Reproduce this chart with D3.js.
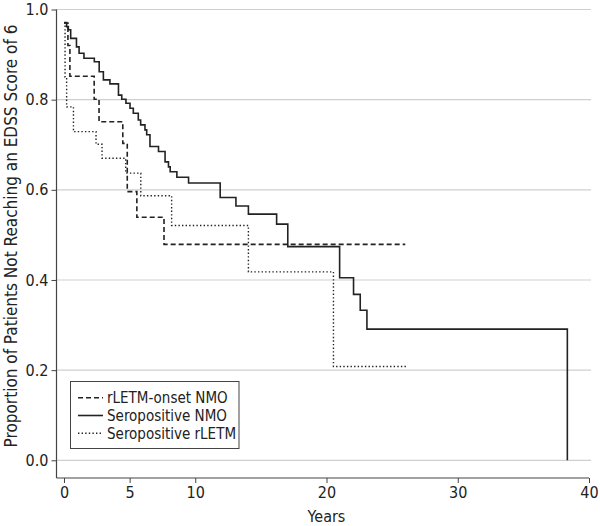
<!DOCTYPE html>
<html>
<head>
<meta charset="utf-8">
<script src="https://cdn.jsdelivr.net/npm/d3@7/dist/d3.min.js"></script>
<style>
  html, body { margin: 0; padding: 0; background: #fff; }
  svg { display: block; }
  text { font-family: "Liberation Sans Narrow", "DejaVu Sans Condensed", "Liberation Sans", sans-serif; fill: #222; }
</style>
</head>
<body>
<svg id="chart" width="600" height="526"></svg>
<script>
// ---- Data ----
const seriesNames = ["rLETM-onset NMO", "Seropositive NMO", "Seropositive rLETM"];

const rletmOnsetTimes  = [0, 0.3, 0.45, 2.3, 2.67, 4.48, 4.82, 5.55, 7.62, 26.0];
const rletmOnsetValues = [0.97, 0.92, 0.852, 0.801, 0.751, 0.703, 0.596, 0.539, 0.479, 0.479];

const seroNmoTimes  = [0, 0.2, 0.33, 0.51, 0.95, 1.15, 1.52, 2.31, 2.68, 3.0, 3.5, 4.15, 4.4, 4.72, 5.03, 5.28, 5.66, 5.84, 6.17, 6.3, 6.55, 7.2, 7.7, 7.96, 8.09, 8.6, 9.49, 11.9, 13.1, 14.05, 16.2, 17.05, 21.0, 22.06, 22.57, 23.08, 38.35];
const seroNmoValues = [0.971, 0.962, 0.955, 0.936, 0.917, 0.903, 0.892, 0.884, 0.862, 0.844, 0.835, 0.810, 0.801, 0.792, 0.781, 0.770, 0.755, 0.744, 0.733, 0.722, 0.696, 0.685, 0.662, 0.651, 0.640, 0.628, 0.615, 0.583, 0.564, 0.546, 0.524, 0.474, 0.405, 0.368, 0.333, 0.291, 0.0];

const seroRletmTimes  = [0, 0.08, 0.2, 0.72, 2.44, 2.9, 4.7, 5.85, 8.2, 14.05, 20.53, 26.1];
const seroRletmValues = [0.97, 0.85, 0.784, 0.729, 0.701, 0.670, 0.637, 0.587, 0.521, 0.418, 0.208, 0.208];

const xTicks = [0, 5, 10, 20, 30, 40];
const yTicks = [0, 0.2, 0.4, 0.6, 0.8, 1.0];
const xLabel = "Years";
const yLabel = "Proportion of Patients Not Reaching an EDSS Score of 6";

// ---- Layout ----
const svg = d3.select("#chart");
const x = d3.scaleLinear().domain([0, 40]).range([64, 589]);
const y = d3.scaleLinear().domain([0, 1]).range([460.3, 9.5]);
const axisLeftX = 56.5;
const axisBottomY = 478;

// gridlines
svg.append("g").selectAll("line").data(yTicks).join("line")
  .attr("x1", axisLeftX).attr("x2", 591)
  .attr("y1", d => y(d)).attr("y2", d => y(d))
  .attr("stroke", "#cfcfcf").attr("stroke-width", 1.2);

// y axis
const yAxis = d3.axisLeft(y).tickValues(yTicks).tickFormat(d3.format(".1f")).tickSize(5).tickPadding(3);
const gy = svg.append("g").attr("transform", `translate(${axisLeftX},0)`).call(yAxis);
gy.select(".domain").remove();
gy.selectAll(".tick line").attr("stroke", "#444");
gy.selectAll(".tick text").style("font-size", "16px").attr("fill", "#222");
svg.append("line").attr("x1", axisLeftX).attr("x2", axisLeftX)
  .attr("y1", y(1)).attr("y2", axisBottomY).attr("stroke", "#444").attr("stroke-width", 1.2);

// x axis
const xAxis = d3.axisBottom(x).tickValues(xTicks).tickFormat(d3.format("d")).tickSize(5).tickPadding(4);
const gx = svg.append("g").attr("transform", `translate(0,${axisBottomY})`).call(xAxis);
gx.select(".domain").remove();
gx.selectAll(".tick line").attr("stroke", "#444");
gx.selectAll(".tick text").style("font-size", "16px").attr("fill", "#222");
svg.append("line").attr("x1", axisLeftX).attr("x2", x(40))
  .attr("y1", axisBottomY).attr("y2", axisBottomY).attr("stroke", "#444").attr("stroke-width", 1.2);

// axis titles
svg.append("text").attr("x", x(20)).attr("y", 522).attr("text-anchor", "middle")
  .style("font-size", "16px").text(xLabel);
svg.append("text").attr("transform", `translate(17,${236}) rotate(-90)`).attr("text-anchor", "middle")
  .style("font-size", "17px").text(yLabel);

// curves
const line = d3.line().x(d => x(d[0])).y(d => y(d[1])).curve(d3.curveStepAfter);
const styles = [
  { dash: "5,3", width: 1.6 },
  { dash: null, width: 1.6 },
  { dash: "1.4,2.2", width: 1.4 }
];
const series = [
  d3.zip(rletmOnsetTimes, rletmOnsetValues),
  d3.zip(seroNmoTimes, seroNmoValues),
  d3.zip(seroRletmTimes, seroRletmValues)
];
series.forEach((s, i) => {
  svg.append("path").datum(s).attr("d", line)
    .attr("fill", "none").attr("stroke", "#222")
    .attr("stroke-width", styles[i].width)
    .attr("stroke-dasharray", styles[i].dash);
});

// legend
const lg = svg.append("g");
lg.append("rect").attr("x", 70.5).attr("y", 381.5).attr("width", 168.5).attr("height", 67)
  .attr("fill", "#fff").attr("stroke", "#444").attr("stroke-width", 1);
seriesNames.forEach((name, i) => {
  const cy = 397.7 + i * 17.8;
  lg.append("line").attr("x1", 78).attr("x2", 103).attr("y1", cy).attr("y2", cy)
    .attr("stroke", "#222").attr("stroke-width", styles[i].width)
    .attr("stroke-dasharray", styles[i].dash);
  lg.append("text").attr("x", 107).attr("y", cy).attr("dy", "0.35em")
    .style("font-size", "15px").text(name);
});
</script>
</body>
</html>
